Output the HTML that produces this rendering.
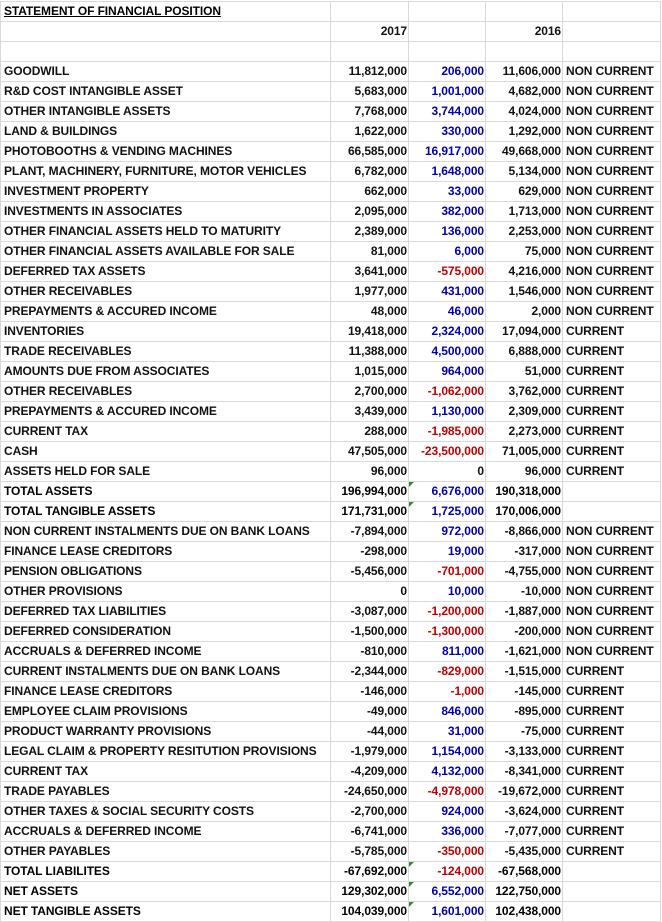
<!DOCTYPE html>
<html><head><meta charset="utf-8"><style>
html,body{margin:0;padding:0;background:#fff;width:662px;height:922px;overflow:hidden}
table{border-collapse:collapse;table-layout:fixed;position:absolute;left:0;top:1px;font-family:"Liberation Sans",sans-serif;font-size:12px;font-weight:bold;letter-spacing:-0.1px;color:#111}
td{border:1px solid #d9d9d9;height:19px;padding:0 2px 0 3px;white-space:nowrap;overflow:visible;line-height:19px}
td.n{text-align:right;padding-right:1px}
.b{color:#0000b0}.r{color:#c00000}
tr.t td{font-weight:bold;color:#000}
tr.t td.b{color:#0000b0}tr.t td.r{color:#c00000}
tr.t td.b,tr.t td.r{position:relative}
.tri{position:absolute;left:0;top:0;width:0;height:0;border-top:5px solid #2e8b2e;border-right:5px solid transparent}
</style></head><body>
<table>
<colgroup><col style="width:330px"><col style="width:78px"><col style="width:77px"><col style="width:77px"><col style="width:98px"></colgroup>
<tr class="t"><td style="text-decoration:underline">STATEMENT OF FINANCIAL POSITION</td><td></td><td></td><td></td><td></td></tr>
<tr><td></td><td class="n">2017</td><td></td><td class="n">2016</td><td></td></tr>
<tr><td></td><td></td><td></td><td></td><td></td></tr>
<tr><td>GOODWILL</td><td class="n">11,812,000</td><td class="n b">206,000</td><td class="n">11,606,000</td><td>NON CURRENT</td></tr>
<tr><td>R&amp;D COST INTANGIBLE ASSET</td><td class="n">5,683,000</td><td class="n b">1,001,000</td><td class="n">4,682,000</td><td>NON CURRENT</td></tr>
<tr><td>OTHER INTANGIBLE ASSETS</td><td class="n">7,768,000</td><td class="n b">3,744,000</td><td class="n">4,024,000</td><td>NON CURRENT</td></tr>
<tr><td>LAND &amp; BUILDINGS</td><td class="n">1,622,000</td><td class="n b">330,000</td><td class="n">1,292,000</td><td>NON CURRENT</td></tr>
<tr><td>PHOTOBOOTHS &amp; VENDING MACHINES</td><td class="n">66,585,000</td><td class="n b">16,917,000</td><td class="n">49,668,000</td><td>NON CURRENT</td></tr>
<tr><td>PLANT, MACHINERY, FURNITURE, MOTOR VEHICLES</td><td class="n">6,782,000</td><td class="n b">1,648,000</td><td class="n">5,134,000</td><td>NON CURRENT</td></tr>
<tr><td>INVESTMENT PROPERTY</td><td class="n">662,000</td><td class="n b">33,000</td><td class="n">629,000</td><td>NON CURRENT</td></tr>
<tr><td>INVESTMENTS IN ASSOCIATES</td><td class="n">2,095,000</td><td class="n b">382,000</td><td class="n">1,713,000</td><td>NON CURRENT</td></tr>
<tr><td>OTHER FINANCIAL ASSETS HELD TO MATURITY</td><td class="n">2,389,000</td><td class="n b">136,000</td><td class="n">2,253,000</td><td>NON CURRENT</td></tr>
<tr><td>OTHER FINANCIAL ASSETS AVAILABLE FOR SALE</td><td class="n">81,000</td><td class="n b">6,000</td><td class="n">75,000</td><td>NON CURRENT</td></tr>
<tr><td>DEFERRED TAX ASSETS</td><td class="n">3,641,000</td><td class="n r">-575,000</td><td class="n">4,216,000</td><td>NON CURRENT</td></tr>
<tr><td>OTHER RECEIVABLES</td><td class="n">1,977,000</td><td class="n b">431,000</td><td class="n">1,546,000</td><td>NON CURRENT</td></tr>
<tr><td>PREPAYMENTS &amp; ACCURED INCOME</td><td class="n">48,000</td><td class="n b">46,000</td><td class="n">2,000</td><td>NON CURRENT</td></tr>
<tr><td>INVENTORIES</td><td class="n">19,418,000</td><td class="n b">2,324,000</td><td class="n">17,094,000</td><td>CURRENT</td></tr>
<tr><td>TRADE RECEIVABLES</td><td class="n">11,388,000</td><td class="n b">4,500,000</td><td class="n">6,888,000</td><td>CURRENT</td></tr>
<tr><td>AMOUNTS DUE FROM ASSOCIATES</td><td class="n">1,015,000</td><td class="n b">964,000</td><td class="n">51,000</td><td>CURRENT</td></tr>
<tr><td>OTHER RECEIVABLES</td><td class="n">2,700,000</td><td class="n r">-1,062,000</td><td class="n">3,762,000</td><td>CURRENT</td></tr>
<tr><td>PREPAYMENTS &amp; ACCURED INCOME</td><td class="n">3,439,000</td><td class="n b">1,130,000</td><td class="n">2,309,000</td><td>CURRENT</td></tr>
<tr><td>CURRENT TAX</td><td class="n">288,000</td><td class="n r">-1,985,000</td><td class="n">2,273,000</td><td>CURRENT</td></tr>
<tr><td>CASH</td><td class="n">47,505,000</td><td class="n r">-23,500,000</td><td class="n">71,005,000</td><td>CURRENT</td></tr>
<tr><td>ASSETS HELD FOR SALE</td><td class="n">96,000</td><td class="n">0</td><td class="n">96,000</td><td>CURRENT</td></tr>
<tr class="t"><td>TOTAL ASSETS</td><td class="n">196,994,000</td><td class="n b"><span class="tri"></span>6,676,000</td><td class="n">190,318,000</td><td></td></tr>
<tr class="t"><td>TOTAL TANGIBLE ASSETS</td><td class="n">171,731,000</td><td class="n b"><span class="tri"></span>1,725,000</td><td class="n">170,006,000</td><td></td></tr>
<tr><td>NON CURRENT INSTALMENTS DUE ON BANK LOANS</td><td class="n">-7,894,000</td><td class="n b">972,000</td><td class="n">-8,866,000</td><td>NON CURRENT</td></tr>
<tr><td>FINANCE LEASE CREDITORS</td><td class="n">-298,000</td><td class="n b">19,000</td><td class="n">-317,000</td><td>NON CURRENT</td></tr>
<tr><td>PENSION OBLIGATIONS</td><td class="n">-5,456,000</td><td class="n r">-701,000</td><td class="n">-4,755,000</td><td>NON CURRENT</td></tr>
<tr><td>OTHER PROVISIONS</td><td class="n">0</td><td class="n b">10,000</td><td class="n">-10,000</td><td>NON CURRENT</td></tr>
<tr><td>DEFERRED TAX LIABILITIES</td><td class="n">-3,087,000</td><td class="n r">-1,200,000</td><td class="n">-1,887,000</td><td>NON CURRENT</td></tr>
<tr><td>DEFERRED CONSIDERATION</td><td class="n">-1,500,000</td><td class="n r">-1,300,000</td><td class="n">-200,000</td><td>NON CURRENT</td></tr>
<tr><td>ACCRUALS &amp; DEFERRED INCOME</td><td class="n">-810,000</td><td class="n b">811,000</td><td class="n">-1,621,000</td><td>NON CURRENT</td></tr>
<tr><td>CURRENT INSTALMENTS DUE ON BANK LOANS</td><td class="n">-2,344,000</td><td class="n r">-829,000</td><td class="n">-1,515,000</td><td>CURRENT</td></tr>
<tr><td>FINANCE LEASE CREDITORS</td><td class="n">-146,000</td><td class="n r">-1,000</td><td class="n">-145,000</td><td>CURRENT</td></tr>
<tr><td>EMPLOYEE CLAIM PROVISIONS</td><td class="n">-49,000</td><td class="n b">846,000</td><td class="n">-895,000</td><td>CURRENT</td></tr>
<tr><td>PRODUCT WARRANTY PROVISIONS</td><td class="n">-44,000</td><td class="n b">31,000</td><td class="n">-75,000</td><td>CURRENT</td></tr>
<tr><td>LEGAL CLAIM &amp; PROPERTY RESITUTION PROVISIONS</td><td class="n">-1,979,000</td><td class="n b">1,154,000</td><td class="n">-3,133,000</td><td>CURRENT</td></tr>
<tr><td>CURRENT TAX</td><td class="n">-4,209,000</td><td class="n b">4,132,000</td><td class="n">-8,341,000</td><td>CURRENT</td></tr>
<tr><td>TRADE PAYABLES</td><td class="n">-24,650,000</td><td class="n r">-4,978,000</td><td class="n">-19,672,000</td><td>CURRENT</td></tr>
<tr><td>OTHER TAXES &amp; SOCIAL SECURITY COSTS</td><td class="n">-2,700,000</td><td class="n b">924,000</td><td class="n">-3,624,000</td><td>CURRENT</td></tr>
<tr><td>ACCRUALS &amp; DEFERRED INCOME</td><td class="n">-6,741,000</td><td class="n b">336,000</td><td class="n">-7,077,000</td><td>CURRENT</td></tr>
<tr><td>OTHER PAYABLES</td><td class="n">-5,785,000</td><td class="n r">-350,000</td><td class="n">-5,435,000</td><td>CURRENT</td></tr>
<tr class="t"><td>TOTAL LIABILITES</td><td class="n">-67,692,000</td><td class="n r"><span class="tri"></span>-124,000</td><td class="n">-67,568,000</td><td></td></tr>
<tr class="t"><td>NET ASSETS</td><td class="n">129,302,000</td><td class="n b"><span class="tri"></span>6,552,000</td><td class="n">122,750,000</td><td></td></tr>
<tr class="t"><td>NET TANGIBLE ASSETS</td><td class="n">104,039,000</td><td class="n b"><span class="tri"></span>1,601,000</td><td class="n">102,438,000</td><td></td></tr>
</table>
</body></html>
